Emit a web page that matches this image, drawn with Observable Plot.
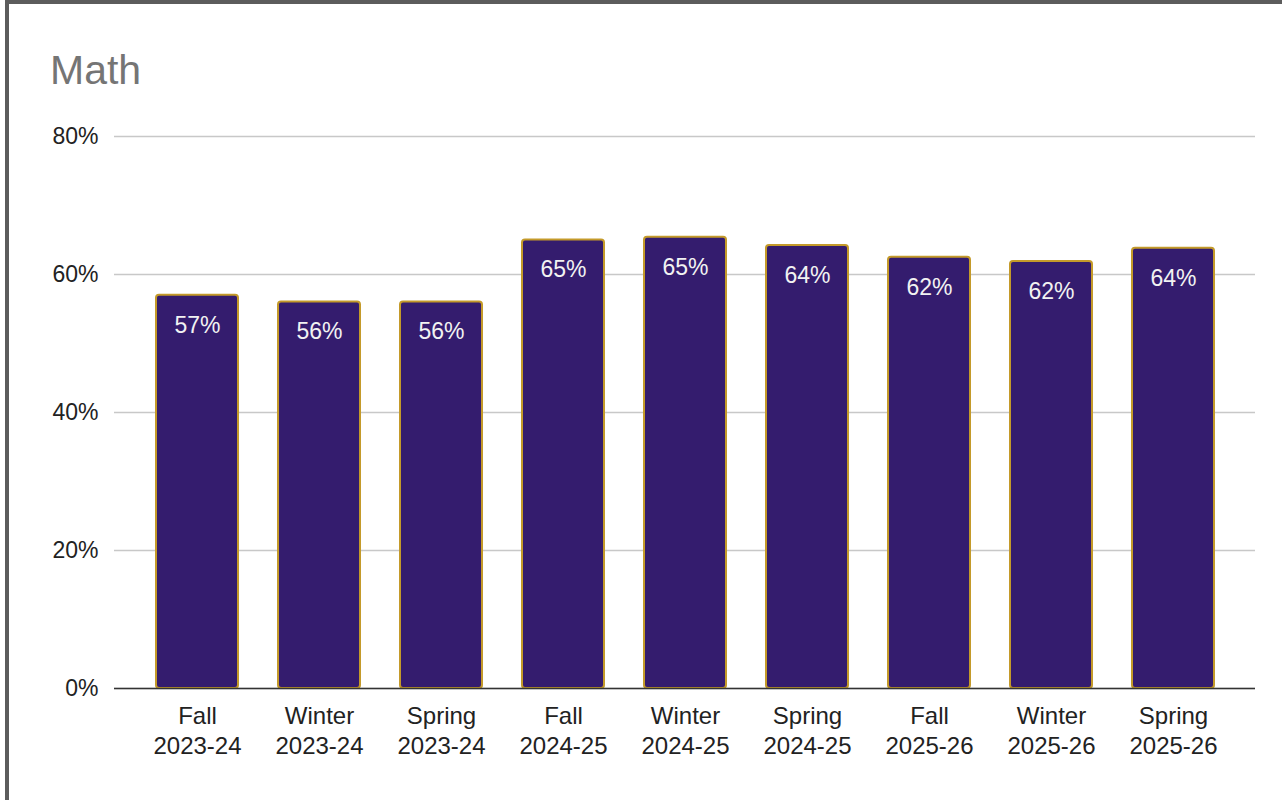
<!DOCTYPE html>
<html>
<head>
<meta charset="utf-8">
<script src="https://cdn.jsdelivr.net/npm/d3@7"></script>
<script src="https://cdn.jsdelivr.net/npm/@observablehq/plot@0.6"></script>
<style>
  html, body { margin: 0; padding: 0; background: #fff; overflow: hidden; }
  body { width: 1282px; height: 800px; position: relative; font-family: "Liberation Sans", Arial, sans-serif; }
  #frame { position: absolute; left: 5px; top: 0px; width: 1300px; height: 820px; border: 4px solid #5c5c5c; box-sizing: border-box; }
  #title { position: absolute; left: 50px; top: 50px; font-size: 41px; line-height: 41px; color: #757575; }
  #chart { position: absolute; left: 0; top: 100px; }
</style>
</head>
<body>
<div id="frame"></div>
<div id="title">Math</div>
<div id="chart"></div>
<script>
const seasons = ["Fall", "Winter", "Spring", "Fall", "Winter", "Spring", "Fall", "Winter", "Spring"];
const years = ["2023-24", "2023-24", "2023-24", "2024-25", "2024-25", "2024-25", "2025-26", "2025-26", "2025-26"];
const values = [57, 56, 56, 65, 65.4, 64.2, 62.5, 61.9, 63.8];
const valueLabels = ["57%", "56%", "56%", "65%", "65%", "64%", "62%", "62%", "64%"];
const yTicks = [0, 20, 40, 60, 80];

const data = seasons.map((s, i) => ({
  key: s + "\n" + years[i],
  value: values[i],
  label: valueLabels[i]
}));
const order = data.map(d => d.key);

const chart = Plot.plot({
  width: 1282,
  height: 700,
  marginTop: 36,
  marginBottom: 112,
  marginLeft: 114,
  marginRight: 27,
  style: { fontFamily: "'Liberation Sans', Arial, sans-serif", fontSize: "23px", color: "#222", background: "transparent" },
  x: { domain: order, padding: 0.33, label: null },
  y: { domain: [0, 80], ticks: yTicks, label: null },
  marks: [
    Plot.gridY(yTicks, { stroke: "#c8c8c8", strokeOpacity: 1, strokeWidth: 1.3 }),
    Plot.axisY(yTicks, { tickSize: 0, tickPadding: 16, tickFormat: d => d + "%", fontSize: 23, fill: "#222", label: null, fontFamily: "'Liberation Sans', Arial, sans-serif" }),
    Plot.axisX({ tickSize: 0, tickPadding: 14, fontSize: 24, lineHeight: 1.25, fill: "#222", label: null, fontFamily: "'Liberation Sans', Arial, sans-serif" }),
    Plot.barY(data, { x: "key", y: "value", fill: "#341c6e", stroke: "#c49a2a", strokeWidth: 2, rx: 3 }),
    Plot.text(data, { x: "key", y: "value", text: "label", dy: 30, fill: "#f2f2f2", fontSize: 23, fontFamily: "'Liberation Sans', Arial, sans-serif" }),
    Plot.ruleY([0], { stroke: "#333", strokeWidth: 1.5 })
  ]
});
document.getElementById("chart").appendChild(chart);
</script>
</body>
</html>
